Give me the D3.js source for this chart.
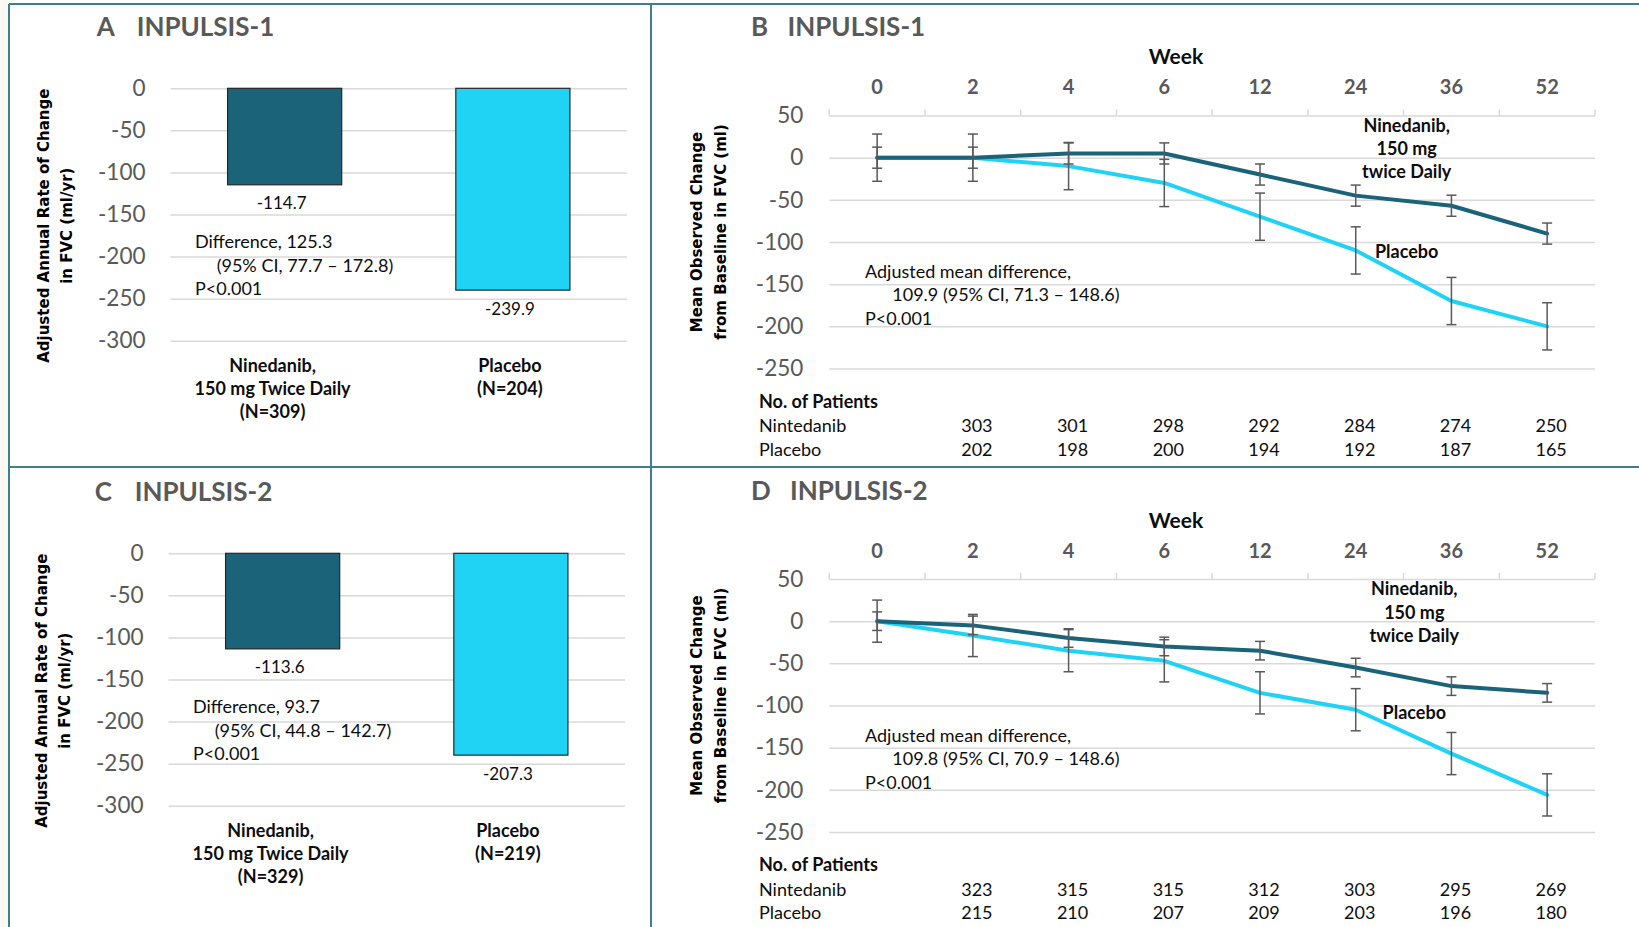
<!DOCTYPE html>
<html>
<head>
  <meta charset="utf-8">
  <title>INPULSIS-1 and INPULSIS-2, FVC</title>
  <script src="https://cdnjs.cloudflare.com/ajax/libs/d3/7.8.5/d3.min.js"></script>
  <style>
    body { margin: 0; background: #fff; }
    svg text { font-family: Lato, 'Open Sans', sans-serif; }
    .grid line { stroke: #d9d9d9; stroke-width: 1.5; }
    .grid text { fill: #595959; font-size: 22.5px; }
    .title { fill: #595959; font-size: 26px; font-weight: bold; }
    .ytitle { font-family: 'DejaVu Sans', sans-serif !important; font-size: 15px; font-weight: bold; fill: #000; }
    .note { font-size: 18px; fill: #0d0d0d; }
    .cat { font-size: 18px; font-weight: bold; fill: #0d0d0d; }
    .val { font-size: 17px; fill: #0d0d0d; }
    .week { font-size: 20px; font-weight: bold; fill: #595959; }
  </style>
</head>
<body>
  <svg id="chart" width="1639" height="927"></svg>
  <script>
    // ---- data ----
    const barGroups = ["nin", "pla"];
    const barTicks = [0, -50, -100, -150, -200, -250, -300];
    const barCatsA = [["Ninedanib,", "150 mg Twice Daily", "(N=309)"], ["Placebo", "(N=204)"]];
    const barCatsC = [["Ninedanib,", "150 mg Twice Daily", "(N=329)"], ["Placebo", "(N=219)"]];
    const barValuesA = [-114.7, -239.9];
    const barLabelsA = ["-114.7", "-239.9"];
    // the placebo bar in C is drawn to the same height as in A, its label reads -207.3
    const barValuesC = [-113.6, -239.9];
    const barLabelsC = ["-113.6", "-207.3"];

    const weeks = ["0", "2", "4", "6", "12", "24", "36", "52"];
    const lineTicks = [50, 0, -50, -100, -150, -200, -250];
    const ninB = [0, 0, 5, 5, -20, -45, -57, -90];
    const ninErrB = [12.5, 12.5, 12.5, 12.5, 12.5, 12.5, 12.5, 12.5];
    const plaB = [0, 0, -10, -30, -70, -110, -170, -200];
    const plaErrB = [28, 28, 28, 28, 28, 28, 28, 28];
    const ninD = [0, -5, -20, -30, -35, -55, -77, -85];
    const ninErrD = [11, 11, 11, 11, 11, 11, 11, 11];
    const plaD = [0, -17, -35, -47, -85, -105, -157, -206];
    const plaErrD = [25, 25, 25, 25, 25, 25, 25, 25];

    const patientsNinB = [303, 301, 298, 292, 284, 274, 250];
    const patientsPlaB = [202, 198, 200, 194, 192, 187, 165];
    const patientsNinD = [323, 315, 315, 312, 303, 295, 269];
    const patientsPlaD = [215, 210, 207, 209, 203, 196, 180];

    const darkTeal = '#1b6379';
    const cyan = '#20d3f5';
    const border = '#3d7f8e';

    const svg = d3.select('#chart');
    svg.append('rect').attr('width', 1639).attr('height', 927).attr('fill', '#fff');
    svg.append('rect').attr('width', 9).attr('height', 927).attr('fill', '#fcf8f4');

    function multiLine(g, lines, x, y0, dy, cls, anchor) {
      const t = g.append('text').attr('class', cls).attr('text-anchor', anchor || 'start');
      lines.forEach((s, i) => {
        t.append('tspan').attr('x', typeof x === 'number' ? x : x[i]).attr('y', y0 + i * dy).text(s);
      });
    }

    function yTitle(g, lines, xs, cy) {
      lines.forEach((s, i) => {
        g.append('text').attr('class', 'ytitle')
          .attr('text-anchor', 'middle')
          .attr('transform', `translate(${xs[i]},${cy}) rotate(-90)`)
          .text(s);
      });
    }

    function barPanel(p) {
      const g = svg.append('g').attr('transform', `translate(${p.dx},${p.dy})`);
      const left = 170.5, right = 627;
      const x = d3.scaleBand().domain(barGroups).range([left, right]).paddingInner(0.5).paddingOuter(0.25);
      const y = d3.scaleLinear().domain([-300, 0]).range([340.7, 88.3]);

      g.append('g').attr('class', 'grid')
        .attr('transform', `translate(${left},0)`)
        .call(d3.axisLeft(y).tickValues(barTicks).tickSize(-(right - left)).tickPadding(25).tickFormat(d => String(d)))
        .call(a => a.select('.domain').remove());

      g.selectAll('rect.bar').data(p.values).join('rect')
        .attr('class', 'bar')
        .attr('x', (d, i) => x(barGroups[i]))
        .attr('y', y(0))
        .attr('width', x.bandwidth())
        .attr('height', d => y(d) - y(0))
        .attr('fill', (d, i) => i === 0 ? darkTeal : cyan)
        .attr('stroke', '#262626')
        .attr('stroke-width', 1.2);

      g.selectAll('text.val').data(p.values).join('text')
        .attr('class', 'val')
        .attr('text-anchor', 'middle')
        .attr('x', (d, i) => x(barGroups[i]) + x.bandwidth() / 2 - 3)
        .attr('y', d => y(d) + 24.5)
        .text((d, i) => p.labels[i]);

      p.cats.forEach((lines, i) => {
        const cx = x(barGroups[i]) + x.bandwidth() / 2 - (i === 0 ? 12 : 3);
        multiLine(g, lines, cx, 371.7, 23.3, 'cat', 'middle');
      });

      g.append('text').attr('class', 'title').attr('x', 96.7).attr('y', 36).text(p.letter);
      g.append('text').attr('class', 'title').attr('x', 136.7).attr('y', 36).text(p.study);

      multiLine(g, [p.note[0]], 195, 248.3, 0, 'note');
      multiLine(g, [p.note[1]], 216.7, 271.7, 0, 'note');
      multiLine(g, [p.note[2]], 195, 295, 0, 'note');

      yTitle(g, ["Adjusted Annual Rate of Change", "in FVC (ml/yr)"], [48.5, 72], 225.7);
    }

    function linePanel(p) {
      const g = svg.append('g').attr('transform', `translate(${p.dx},${p.dy})`);
      const left = 829.3, right = 1595;
      const x = d3.scaleBand().domain(weeks).range([left, right]);
      const cx = w => x(w) + x.bandwidth() / 2;
      const y = d3.scaleLinear().domain([-250, 50]).range([368.5, 115.5]);

      g.append('g').attr('class', 'grid')
        .attr('transform', `translate(${left},0)`)
        .call(d3.axisLeft(y).tickValues(lineTicks).tickSize(-(right - left)).tickPadding(26).tickFormat(d => String(d)))
        .call(a => a.select('.domain').remove());

      // tick marks above the top line, at the category boundaries
      g.selectAll('line.bound').data(d3.range(weeks.length + 1)).join('line')
        .attr('class', 'bound')
        .attr('x1', i => left + i * x.step()).attr('x2', i => left + i * x.step())
        .attr('y1', y(50) - 6).attr('y2', y(50))
        .attr('stroke', '#d9d9d9').attr('stroke-width', 1.5);

      g.selectAll('text.week').data(weeks).join('text')
        .attr('class', 'week')
        .attr('text-anchor', 'middle')
        .attr('x', d => cx(d))
        .attr('y', 94)
        .text(d => d);
      g.append('text').attr('x', 1176).attr('y', 64).attr('text-anchor', 'middle')
        .attr('font-size', 21).attr('font-weight', 'bold').attr('fill', '#0d0d0d').text('Week');

      const line = d3.line().x((d, i) => cx(weeks[i])).y(d => y(d));
      g.append('path').attr('d', line(p.pla)).attr('fill', 'none')
        .attr('stroke', cyan).attr('stroke-width', 4).attr('stroke-linejoin', 'round').attr('stroke-linecap', 'round');
      g.append('path').attr('d', line(p.nin)).attr('fill', 'none')
        .attr('stroke', darkTeal).attr('stroke-width', 4).attr('stroke-linejoin', 'round').attr('stroke-linecap', 'round');

      [[p.pla, p.plaErr], [p.nin, p.ninErr]].forEach(([vals, errs]) => {
        const eb = g.append('g').attr('stroke', '#595959').attr('stroke-width', 1.5);
        vals.forEach((v, i) => {
          const xc = cx(weeks[i]);
          const top = y(v + errs[i]), bot = y(v - errs[i]);
          eb.append('line').attr('x1', xc).attr('x2', xc).attr('y1', top).attr('y2', bot);
          eb.append('line').attr('x1', xc - 5).attr('x2', xc + 5).attr('y1', top).attr('y2', top);
          eb.append('line').attr('x1', xc - 5).attr('x2', xc + 5).attr('y1', bot).attr('y2', bot);
        });
      });

      g.append('text').attr('class', 'title').attr('x', 751).attr('y', 36).text(p.letter);
      g.append('text').attr('class', 'title').attr('x', p.studyX).attr('y', 36).text(p.study);

      multiLine(g, [p.note[0]], 865, 278.3, 0, 'note');
      multiLine(g, [p.note[1]], 892.3, 301, 0, 'note');
      multiLine(g, [p.note[2]], 865, 325, 0, 'note');

      multiLine(g, ["Ninedanib,", "150 mg", "twice Daily"], p.labelX, 131.7, 23.3, 'cat', 'middle');
      multiLine(g, ["Placebo"], p.labelX, p.placeboY, 0, 'cat', 'middle');

      // number of patients
      g.append('text').attr('class', 'note').attr('font-weight', 'bold').attr('x', 759).attr('y', 407.7).text('No. of Patients');
      g.append('text').attr('class', 'note').attr('x', 759).attr('y', 432.3).text('Nintedanib');
      g.append('text').attr('class', 'note').attr('x', 759).attr('y', 455.7).text('Placebo');
      [[p.nNin, 432.3], [p.nPla, 455.7]].forEach(([row, yy]) => {
        g.selectAll(null).data(row).join('text')
          .attr('class', 'note')
          .attr('text-anchor', 'middle')
          .attr('x', (d, i) => cx(weeks[i + 1]) + 4)
          .attr('y', yy)
          .text(d => d);
      });

      yTitle(g, ["Mean Observed Change", "from Baseline in FVC (ml)"], [702, 725.5], 232);
    }

    barPanel({
      dx: 0, dy: 0, letter: 'A', study: 'INPULSIS-1',
      values: barValuesA, labels: barLabelsA, cats: barCatsA,
      note: ["Difference, 125.3", "(95% CI, 77.7 \u2013 172.8)", "P<0.001"]
    });
    barPanel({
      dx: -2, dy: 465, letter: 'C', study: 'INPULSIS-2',
      values: barValuesC, labels: barLabelsC, cats: barCatsC,
      note: ["Difference, 93.7", "(95% CI, 44.8 \u2013 142.7)", "P<0.001"]
    });
    linePanel({
      dx: 0, dy: 0, letter: 'B', study: 'INPULSIS-1', studyX: 787.5,
      nin: ninB, ninErr: ninErrB, pla: plaB, plaErr: plaErrB,
      nNin: patientsNinB, nPla: patientsPlaB,
      note: ["Adjusted mean difference,", "109.9 (95% CI, 71.3 \u2013 148.6)", "P<0.001"],
      labelX: 1406.7, placeboY: 257.7
    });
    linePanel({
      dx: 0, dy: 463.5, letter: 'D', study: 'INPULSIS-2', studyX: 790,
      nin: ninD, ninErr: ninErrD, pla: plaD, plaErr: plaErrD,
      nNin: patientsNinD, nPla: patientsPlaD,
      note: ["Adjusted mean difference,", "109.8 (95% CI, 70.9 \u2013 148.6)", "P<0.001"],
      labelX: 1414.3, placeboY: 255.8
    });

    // panel frame
    const frame = svg.append('g').attr('stroke', border).attr('stroke-width', 2);
    frame.append('line').attr('x1', 9).attr('x2', 1639).attr('y1', 4).attr('y2', 4);
    frame.append('line').attr('x1', 9).attr('x2', 9).attr('y1', 4).attr('y2', 927);
    frame.append('line').attr('x1', 651).attr('x2', 651).attr('y1', 4).attr('y2', 927);
    frame.append('line').attr('x1', 9).attr('x2', 1639).attr('y1', 467).attr('y2', 467);
  </script>
</body>
</html>
